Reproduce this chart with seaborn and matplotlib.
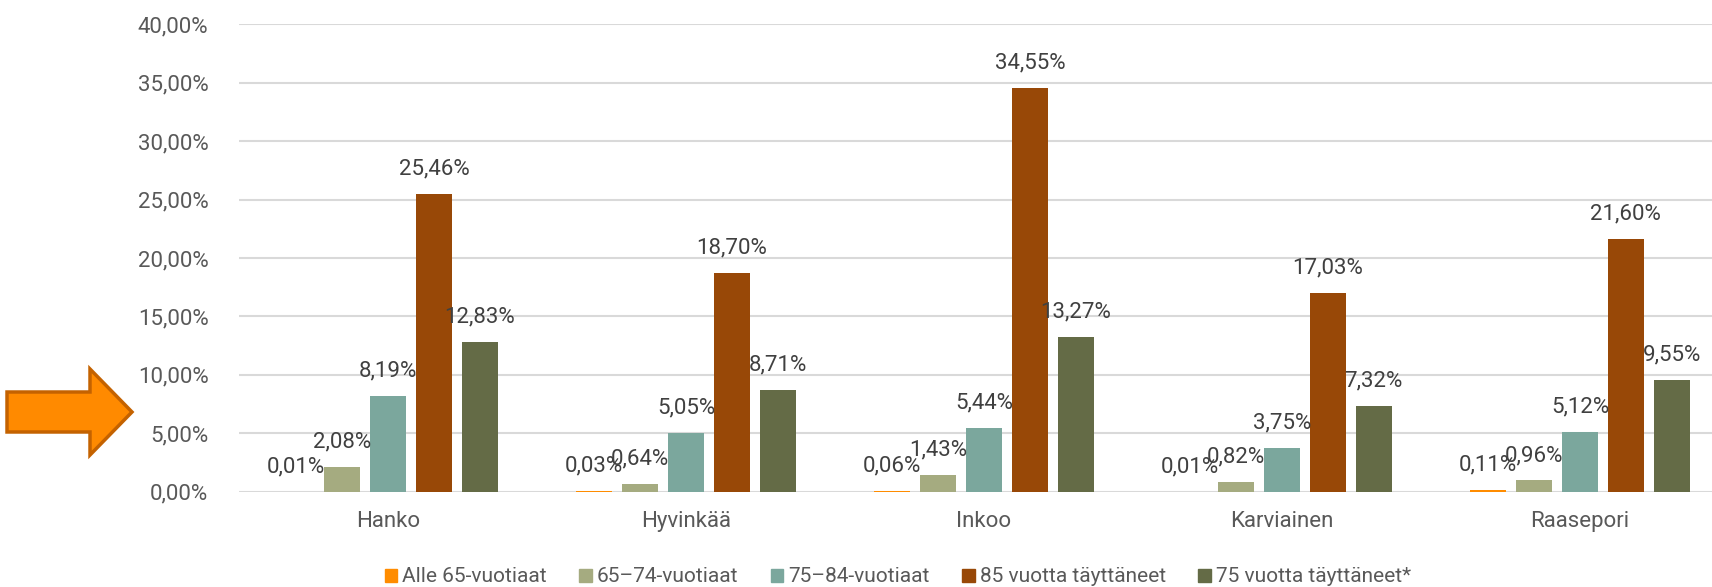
import numpy as np
import pandas as pd
import matplotlib
matplotlib.use("Agg")
import matplotlib.pyplot as plt
import seaborn as sns
from matplotlib.patches import Polygon

# ---- data ----
municipalities = ["Hanko", "Hyvinkää", "Inkoo", "Karviainen", "Raasepori"]
series_names = ["Alle 65-vuotiaat", "65–74-vuotiaat", "75–84-vuotiaat",
                "85 vuotta täyttäneet", "75 vuotta täyttäneet*"]
alle65 = [0.01, 0.03, 0.06, 0.01, 0.11]
v65_74 = [2.08, 0.64, 1.43, 0.82, 0.96]
v75_84 = [8.19, 5.05, 5.44, 3.75, 5.12]
v85 = [25.46, 18.70, 34.55, 17.03, 21.60]
v75plus = [12.83, 8.71, 13.27, 7.32, 9.55]
y_ticks = [0, 5, 10, 15, 20, 25, 30, 35, 40]

colors = ["#FF8C00", "#A5AB80", "#7BA79D", "#984807", "#646B46"]

rows = []
for name, vals in zip(series_names, [alle65, v65_74, v75_84, v85, v75plus]):
    for m, v in zip(municipalities, vals):
        rows.append({"Kunta": m, "Sarja": name, "Arvo": v})
df = pd.DataFrame(rows)

sns.set_theme(style="white")
plt.rcParams["font.family"] = ["Roboto", "DejaVu Sans"]

W, H = 1712, 587
fig = plt.figure(figsize=(W / 100, H / 100), dpi=100)
left, right = 239, 1729
top, bottom = 24.3, 491.7
ax = fig.add_axes([left / W, 1 - bottom / H, (right - left) / W, (bottom - top) / H])

sns.barplot(data=df, x="Kunta", y="Arvo", hue="Sarja", order=municipalities,
            hue_order=series_names, palette=colors, width=0.77, gap=0.22,
            saturation=1, ax=ax, legend=False, linewidth=0)

ax.set_ylim(0, 40)
ax.set_xlim(-0.5, len(municipalities) - 0.5)
ax.set_yticks(y_ticks)
ax.set_yticklabels([f"{t:.2f}%".replace(".", ",") for t in y_ticks],
                   color="#595959", fontsize=16)
ax.tick_params(axis="y", length=0, pad=22)
ax.tick_params(axis="x", length=0, pad=14, labelsize=16, labelcolor="#595959")
ax.set_xlabel("")
ax.set_ylabel("")
ax.grid(axis="y", color="#D9D9D9", linewidth=1.5)
ax.set_axisbelow(True)
for s in ax.spines.values():
    s.set_visible(False)

for cont in ax.containers:
    for patch in cont.patches:
        h = patch.get_height()
        xc = patch.get_x() + patch.get_width() / 2
        ax.annotate(f"{h:.2f}%".replace(".", ","), (xc, h), xytext=(0, 18),
                    textcoords="offset points", ha="center", va="center",
                    fontsize=16, color="#404040", annotation_clip=False)

# legend
handles = [plt.Rectangle((0, 0), 1, 1, color=c) for c in colors]
leg_font = {"family": ["Roboto", "DejaVu Sans"], "size": 15}
fig.legend(handles, series_names, loc="center", bbox_to_anchor=(898 / W, 1 - 577 / H),
           ncol=5, frameon=False, prop=leg_font, handlelength=0.6, handleheight=0.6,
           handletextpad=0.25, columnspacing=1.55, labelcolor="#595959")

# decorative arrow (figure pixel coords)
pts = [(7, 392), (90, 392), (90, 369), (132, 412), (90, 455), (90, 432), (7, 432)]
arrow = Polygon([(x / W, 1 - y / H) for x, y in pts], closed=True,
                facecolor="#FF8A00", edgecolor="#C46200", linewidth=2.5,
                transform=fig.transFigure)
fig.patches.append(arrow)

fig.savefig("out.png", dpi=100)
